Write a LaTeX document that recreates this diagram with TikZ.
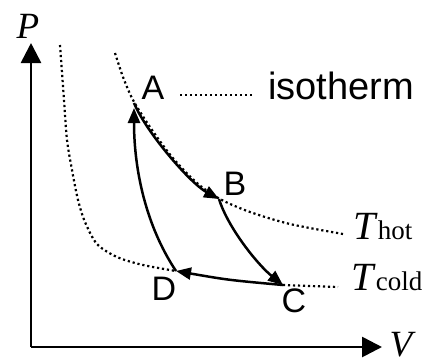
\documentclass[tikz,border=0pt]{standalone}
\usepackage{fontspec}
\setmainfont{Liberation Serif}
\setsansfont{Liberation Sans}
\usetikzlibrary{arrows.meta}
\tikzset{
  axis/.style={line width=2.7pt,-{Triangle[length=20pt,width=20pt]}},
  leg/.style={line width=2.5pt,-{Triangle[length=15pt,width=12pt]}},
  isoline/.style={line width=2.2pt,dash pattern=on 2.2pt off 2.8pt},
  statelbl/.style={font=\sffamily\fontsize{34}{34}\selectfont,inner sep=0pt,anchor=base},
  axislbl/.style={font=\itshape\fontsize{37}{37}\selectfont,inner sep=0pt,anchor=base},
  templbl/.style={font=\fontsize{40}{40}\selectfont,inner sep=0pt,anchor=base west},
}
\newcommand{\tsub}[1]{{\fontsize{27}{27}\selectfont #1}}

\begin{document}
\begin{tikzpicture}[x=1pt,y=-1pt]
  \useasboundingbox (0,0) rectangle (435,360);
  % axes
  \coordinate (O) at (31,347);
  \coordinate (Ptip) at (31,43);
  \coordinate (Vtip) at (382,347);
  \draw[axis] (O) -- (Ptip);
  \draw[axis] (O) -- (Vtip);
  \node[axislbl] (Plbl) at (28,38) {P};
  \node[axislbl] (Vlbl) at (401,356) {V};
  % corners of the cycle
  \coordinate (A) at (134,103);
  \coordinate (B) at (219,199);
  \coordinate (C) at (283,285);
  \coordinate (D) at (176,271);
  % isotherms
  \draw[isoline] plot[smooth] coordinates {(115,53) (123,77) (133,100) (150,127) (172,157) (197,183) (220,199) (250,212) (290,224) (343,234)};
  \draw[isoline] plot[smooth] coordinates {(60,45) (64,100) (67,140) (72,170) (78,200) (85,222) (97,244) (117,257) (143,265) (176,271)};
  \draw[isoline] (C) -- (338,287);
  % cycle
  \draw[leg] (A) .. controls (146,132) and (190,183) .. (B);
  \draw[leg] (B) .. controls (228,228) and (258,265) .. (C);
  \draw[leg] (C) .. controls (228,280) .. (D);
  \draw[leg,shorten >=5pt] (D) .. controls (146,226) and (134,170) .. (A);
  % labels
  \node[statelbl] (Albl) at (153,99) {A};
  \node[statelbl] (Blbl) at (235,195) {B};
  \node[statelbl] (Clbl) at (294,312) {C};
  \node[statelbl] (Dlbl) at (164,300) {D};
  \coordinate (lead1) at (180,95);
  \coordinate (lead2) at (252,95);
  \draw[isoline] (lead1) -- (lead2);
  \node[font=\sffamily\fontsize{38}{38}\selectfont,inner sep=0pt,anchor=base west] (iso) at (268,99) {isotherm};
  \node[templbl] (Thot) at (353,239) {\textit{T}\tsub{hot}};
  \node[templbl] (Tcold) at (351,290) {\textit{T}\tsub{cold}};
\end{tikzpicture}
\end{document}
